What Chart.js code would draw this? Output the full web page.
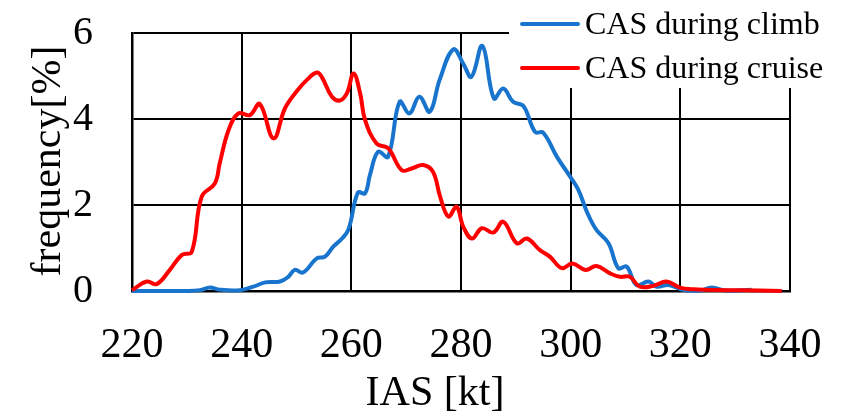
<!DOCTYPE html>
<html>
<head>
<meta charset="utf-8">
<script src="https://cdn.jsdelivr.net/npm/chart.js@4.4.0/dist/chart.umd.min.js"></script>
<style>
  body { margin: 0; background: white; }
  #c { display: block; }
</style>
</head>
<body>
<canvas id="c" width="843" height="416"></canvas>
<script>
// data
const climbIas = [220, 223.3, 230, 232.4, 234.2, 236, 239.7, 242.1, 244.3, 247, 248.5, 249.7, 251.2, 253.7, 255.2, 256.7, 258.3, 259.5, 261.2, 262.5, 263.4, 264.9, 266.7, 268.8, 270.6, 272.4, 274.3, 276.1, 278.6, 280.4, 281.9, 283.9, 286, 287.7, 289.5, 291.4, 293.5, 295, 297.5, 299.9, 301.4, 303.1, 304.7, 306.9, 308.7, 310.2, 312, 314.2, 315.7, 317.8, 320.6, 323.6, 325.7, 328.4, 333];
const climbFreq = [0, 0, 0, 0.02, 0.08, 0.03, 0.02, 0.1, 0.2, 0.22, 0.33, 0.49, 0.43, 0.76, 0.8, 1.03, 1.22, 1.44, 2.29, 2.27, 2.7, 3.24, 3.12, 4.4, 4.13, 4.52, 4.17, 4.91, 5.62, 5.29, 4.98, 5.7, 4.48, 4.71, 4.4, 4.3, 3.7, 3.68, 3.12, 2.66, 2.35, 1.8, 1.42, 1.11, 0.53, 0.57, 0.14, 0.22, 0.1, 0.14, 0.02, 0.01, 0.08, 0.01, 0.03];

const cruiseIas = [220, 222.7, 224.5, 226.9, 229.1, 230.9, 232.7, 235.1, 236, 237.6, 239.4, 241.5, 243.3, 245.8, 247.9, 250, 251.9, 253.7, 254.6, 256.4, 257.9, 259.2, 260.4, 261.6, 262.5, 264.6, 266.7, 269.2, 271, 273.1, 274.9, 276.2, 277.7, 279.2, 280.4, 282, 283.8, 285.9, 287.7, 290.2, 292, 294.4, 296.2, 298.4, 300.3, 302.7, 304.7, 307.2, 309, 310.8, 312.6, 315.1, 317.5, 319.9, 322.4, 328.4, 334.5, 338.5];
const cruiseFreq = [0.02, 0.22, 0.16, 0.49, 0.84, 0.91, 2.19, 2.5, 2.97, 3.74, 4.13, 4.09, 4.35, 3.55, 4.25, 4.64, 4.91, 5.08, 4.98, 4.53, 4.43, 4.6, 5.06, 4.6, 3.98, 3.43, 3.32, 2.81, 2.85, 2.93, 2.77, 2.19, 1.73, 1.96, 1.5, 1.22, 1.46, 1.36, 1.61, 1.11, 1.22, 0.95, 0.8, 0.53, 0.64, 0.49, 0.58, 0.41, 0.33, 0.33, 0.1, 0.12, 0.22, 0.08, 0.04, 0.02, 0.01, 0];

const seriesNames = ['CAS during climb', 'CAS during cruise'];
const seriesColors = ['#1874cd', '#ff0000'];
const xTitle = 'IAS [kt]';
const yTitle = 'frequency[%]';

const serif = 'Liberation Serif';

function toPoints(xs, ys) {
  return xs.map((x, i) => ({ x: x, y: ys[i] }));
}

// no extra room for overflowing tick labels, layout padding decides
function noOverflow(scale) {
  scale.paddingTop = 0;
  scale.paddingBottom = 0;
  scale.paddingLeft = 0;
  scale.paddingRight = 0;
}

// legend box + axis titles drawn on top
const extras = {
  id: 'extras',
  afterDraw: (chart) => {
    const ctx = chart.ctx;
    ctx.save();
    ctx.fillStyle = 'white';
    ctx.fillRect(509, 0, 843 - 509, 88);

    ctx.font = `32px "${serif}"`;
    ctx.textBaseline = 'middle';
    ctx.textAlign = 'left';
    seriesNames.forEach((name, i) => {
      const y = 24 + i * 44;
      ctx.strokeStyle = seriesColors[i];
      ctx.lineWidth = 4;
      ctx.lineCap = 'round';
      ctx.beginPath();
      ctx.moveTo(522, y);
      ctx.lineTo(578, y);
      ctx.stroke();
      ctx.fillStyle = 'black';
      ctx.fillText(name, 585, y + 2);
    });

    ctx.font = `42px "${serif}"`;
    ctx.fillStyle = 'black';
    ctx.textAlign = 'center';
    ctx.textBaseline = 'alphabetic';
    ctx.fillText(xTitle, 435, 405);

    ctx.translate(60, 161);
    ctx.rotate(-Math.PI / 2);
    ctx.fillText(yTitle, 0, 0);
    ctx.restore();
  }
};

const config = {
  type: 'line',
  data: {
    datasets: [
      {
        label: seriesNames[0],
        data: toPoints(climbIas, climbFreq),
        borderColor: seriesColors[0],
        borderWidth: 4,
        pointRadius: 0,
        tension: 0.4,
        clip: 4,
        order: 2
      },
      {
        label: seriesNames[1],
        data: toPoints(cruiseIas, cruiseFreq),
        borderColor: seriesColors[1],
        borderWidth: 4,
        pointRadius: 0,
        tension: 0.4,
        clip: 4,
        order: 1
      }
    ]
  },
  options: {
    responsive: false,
    animation: false,
    devicePixelRatio: 1,
    layout: { padding: { left: 0, top: 33, right: 53, bottom: 0 } },
    plugins: {
      legend: { display: false },
      tooltip: { enabled: false }
    },
    scales: {
      x: {
        type: 'linear',
        min: 220,
        max: 340,
        afterFit: (scale) => { scale.height = 125; noOverflow(scale); },
        ticks: {
          stepSize: 20,
          padding: 30,
          color: 'black',
          font: { family: serif, size: 42 },
          maxRotation: 0
        },
        grid: { color: 'black', lineWidth: 2, drawTicks: false },
        border: { display: true, color: 'black', width: 2.5 }
      },
      y: {
        min: 0,
        max: 6,
        afterFit: (scale) => { scale.width = 132; noOverflow(scale); },
        ticks: {
          stepSize: 2,
          padding: 39,
          color: 'black',
          font: { family: serif, size: 40 }
        },
        grid: { color: 'black', lineWidth: 2, drawTicks: false },
        border: { display: true, color: 'black', width: 2.5 }
      }
    }
  },
  plugins: [extras]
};

const myChart = new Chart(document.getElementById('c'), config);
</script>
</body>
</html>
